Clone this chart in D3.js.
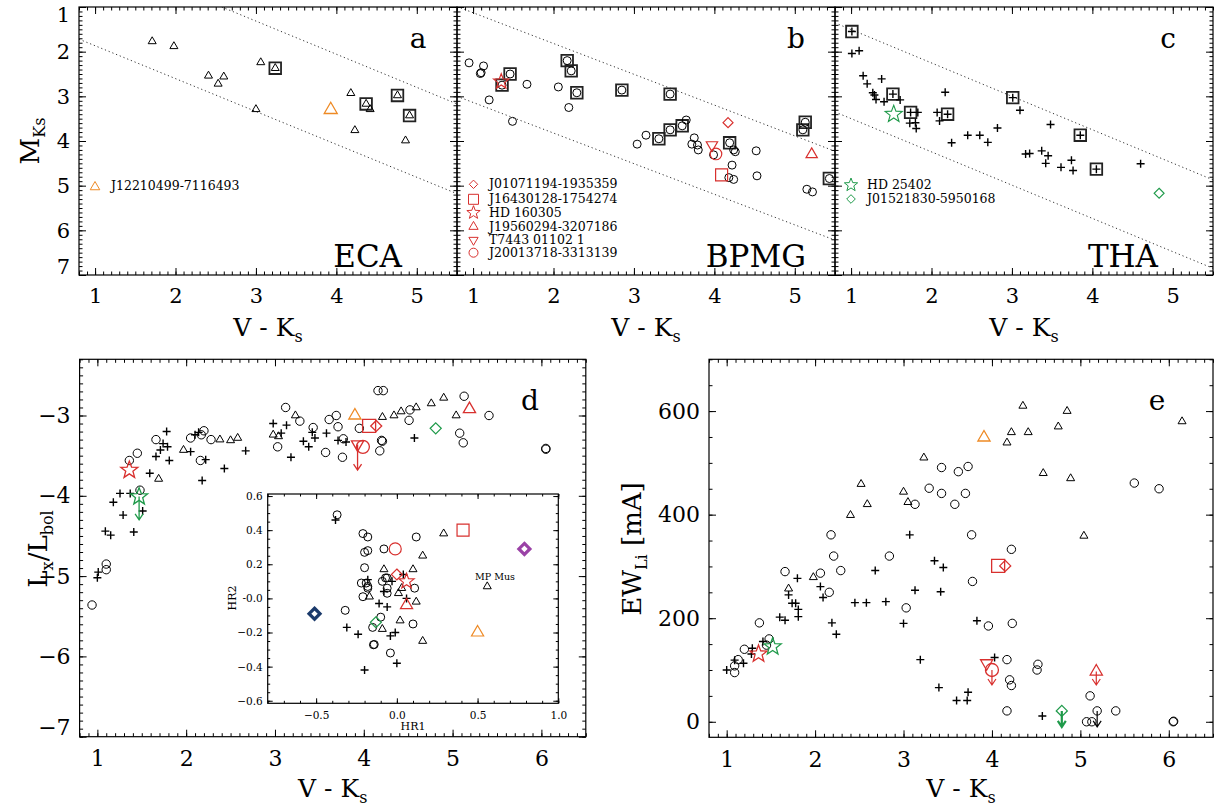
<!DOCTYPE html>
<meta charset="utf-8">
<style>
  body { margin: 0; background: white; }
  svg { font-family: 'DejaVu Serif', serif; }
  .tick line { stroke: black; stroke-width: 1; }
  .tick text { fill: black; font-family: 'DejaVu Serif', serif; }
</style>
<script src="https://cdn.jsdelivr.net/npm/d3@7"></script>
<body>
<div id="chart"></div>
<script>
// ---- colours of the highlighted stars
const RED = "#d8302e", ORANGE = "#ee8a25", GREEN = "#1f9a4a", NAVY = "#1b3a6b", PURPLE = "#9a42a6";

// ---- panel a : ECA  (V-Ks, M_Ks)
const ecaTri = [[1.71,1.77],[1.98,1.88],[2.41,2.54],[2.53,2.72],[2.6,2.56],[3.0,3.29],[3.06,2.24],[3.24,2.37],
  [4.18,2.93],[4.23,3.76],[4.37,3.17],[4.42,3.29],[4.76,2.98],[4.86,3.99],[4.91,3.43]];
const ecaBox = [[3.24,2.37],[4.37,3.17],[4.76,2.98],[4.91,3.43]];
const ecaNames = ["J12210499-7116493"];
const ecaShapes = ["tri"];
const ecaNewVK = [3.93];
const ecaNewMK = [3.30];
const ecaLines = [[[2.575,1.0],[5.5,3.17]], [[0.8,1.72],[5.5,5.18]]];

// ---- panel b : BPMG
const bpmgCirc = [[0.95,2.25],[1.13,2.32],[1.09,2.49],[1.1,2.47],[1.2,3.08],[1.49,3.56],[1.67,2.73],[2.06,2.79],[2.19,3.25],
  [3.04,4.07],[3.15,3.87],[3.65,3.53],[3.75,3.93],[3.72,4.07],[3.79,4.09],[3.8,4.2],[3.99,4.31],[4.22,4.54],
  [4.18,4.82],[4.24,4.86],[4.24,4.2],[4.26,4.24],[4.52,4.22],[4.53,4.78],[5.15,5.08],[5.22,5.14]];
const bpmgBox = [[1.46,2.5],[1.36,2.75],[2.17,2.2],[2.22,2.43],[2.29,2.92],[2.85,2.86],[3.45,2.95],[3.31,3.95],
  [3.45,3.75],[3.6,3.66],[4.19,4.04],[5.13,3.58],[5.1,3.75],[5.43,4.84]];
const bpmgNames = ["J01071194-1935359","J16430128-1754274","HD 160305","J19560294-3207186","T7443 01102 1","J20013718-3313139"];
const bpmgShapes = ["diamond","square","star","tri","triDown","circle"];
const bpmgNewVK = [4.17,4.09,1.35,5.21,3.97,4.02];
const bpmgNewMK = [3.59,4.76,2.67,4.30,4.09,4.29];
const bpmgLines = [[[0.8,0.99],[5.5,4.23]], [[0.8,3.0],[5.5,6.22]]];

// ---- panel c : THA
const thaPlus = [[1.01,2.04],[1.1,1.98],[1.15,2.54],[1.2,2.72],[1.27,2.92],[1.29,2.97],[1.31,3.07],[1.38,2.61],[1.41,3.12],
  [1.61,3.08],[1.73,3.6],[1.8,3.59],[1.81,3.72],[1.83,3.36],[2.07,3.36],[2.1,3.55],[2.17,2.91],[2.25,4.04],[2.45,3.87],
  [2.6,3.87],[2.7,4.03],[2.82,3.71],[3.1,3.31],[3.17,4.29],[3.22,4.28],[3.37,4.22],[3.42,4.5],[3.45,4.33],[3.48,3.63],
  [3.61,4.59],[3.74,4.43],[3.76,4.66],[4.6,4.51]];
const thaBox = [[1.01,1.55],[1.52,2.95],[1.74,3.36],[2.2,3.4],[3.01,3.03],[3.85,3.87],[4.05,4.63]];
const thaNames = ["HD 25402","J01521830-5950168"];
const thaShapes = ["star","diamond"];
const thaNewVK = [1.53,4.83];
const thaNewMK = [3.40,5.17];
const thaLines = [[[0.8,1.355],[5.5,4.87]], [[0.8,3.35],[5.5,6.85]]];

// ---- panel d : log Lx/Lbol
const dCirc = [[1.36,-3.56],[1.45,-3.47],[1.66,-3.30],[1.48,-3.93],[2.05,-3.28],[2.17,-3.24],[2.2,-3.19],[2.28,-3.30],
  [2.16,-3.56],[3.12,-2.90],[3.28,-3.07],[3.03,-3.39],[3.43,-3.15],[3.61,-3.05],[3.69,-3.0],[3.71,-3.14],[3.57,-3.46],
  [3.76,-3.52],[3.77,-3.29],[3.95,-3.16],[4.16,-2.69],[4.22,-2.69],[4.2,-3.31],[4.21,-3.32],[4.18,-3.44],[4.52,-2.93],
  [4.51,-3.06],[5.13,-2.76],[5.41,-3.0],[5.08,-3.22],[5.12,-3.34],[6.05,-3.41],[6.05,-3.42],[0.94,-5.36],[1.1,-4.85],[1.1,-4.92]];
const dTri = [[1.69,-3.79],[1.97,-3.43],[2.38,-3.30],[2.5,-3.31],[2.58,-3.28],[2.98,-3.24],[3.04,-3.26],[3.23,-3.0],
  [4.21,-3.02],[4.34,-3.0],[4.42,-2.95],[4.59,-2.9],[4.76,-2.85],[4.9,-2.78],[5.04,-3.0]];
const dPlus = [[1.78,-3.20],[1.74,-3.35],[1.79,-3.39],[1.71,-3.43],[1.66,-3.51],[1.81,-3.56],[1.59,-3.72],[1.255,-3.97],
  [1.37,-3.97],[1.18,-4.08],[1.29,-4.24],[1.51,-4.19],[1.41,-4.45],[1.09,-4.44],[1.15,-4.49],[1.01,-4.95],[1.0,-5.02],
  [2.1,-3.24],[2.14,-3.21],[2.05,-3.45],[2.22,-3.55],[2.18,-3.81],[2.43,-3.66],[2.67,-3.44],[2.98,-3.10],[3.07,-3.22],
  [3.13,-3.12],[3.18,-3.52],[3.32,-3.32],[3.38,-3.39],[3.42,-3.21],[3.45,-3.28],[3.58,-3.22],[3.71,-3.31],[3.8,-3.33],[4.57,-3.28]];
const dNewShapes = ["star","star","tri","square","diamond","triDown","circle","tri","diamond"];
const dNewColors = [RED,GREEN,ORANGE,RED,RED,RED,RED,RED,GREEN];
const dNewVK = [1.36,1.47,3.90,4.06,4.14,3.93,3.99,5.19,4.81];
const dNewLx = [-3.68,-4.01,-3.0,-3.13,-3.13,-3.36,-3.39,-2.92,-3.16];
// upper limits: [V-Ks, from, to]
const dLimits = [[1.47,-4.01,-4.30,GREEN],[3.93,-3.36,-3.68,RED]];

// ---- inset : hardness ratios
const insCirc = [[-0.37,0.49],[-0.21,0.38],[-0.18,0.36],[-0.2,0.27],[-0.18,0.28],[-0.08,0.29],[0.12,0.36],[-0.2,0.18],
  [-0.22,0.09],[-0.19,0.09],[-0.18,0.07],[-0.18,0.06],[-0.21,0.01],[-0.09,0.1],[-0.07,0.12],[-0.06,0.12],[-0.06,0.06],
  [-0.06,0.03],[0.11,0.06],[-0.32,-0.07],[-0.1,-0.11],[-0.15,-0.17],[-0.14,-0.27],[-0.145,-0.272],[0.1,-0.15],[-0.04,-0.32]];
const insTri = [[0.29,0.38],[0.16,0.25],[-0.08,0.17],[0.1,0.17],[-0.17,0.01],[0.01,0.03],[0.12,-0.02],[0.02,-0.13],
  [-0.09,-0.18],[0.16,-0.25],[0.56,0.07],[0.03,0.06]];
const insPlus = [[-0.38,0.46],[-0.18,0.11],[-0.08,0.04],[-0.03,0.1],[0.04,0.14],[0.06,0.0],[-0.11,-0.03],[-0.06,-0.05],
  [-0.31,-0.17],[-0.24,-0.21],[-0.04,-0.22],[-0.01,-0.2],[-0.2,-0.42],[0.0,-0.38]];
const insNewShapes = ["diamond","diamond","square","circle","diamond","star","tri","diamond","tri"];
const insNewColors = [NAVY,PURPLE,RED,RED,RED,RED,RED,GREEN,ORANGE];
const insHR1 = [-0.51,0.79,0.41,-0.01,0.0,0.06,0.06,-0.13,0.5];
const insHR2 = [-0.09,0.29,0.40,0.29,0.14,0.10,-0.04,-0.14,-0.20];

// ---- panel e : EW(Li)
const eCirc = [[1.09,95],[1.09,108],[1.13,120],[1.2,140],[1.37,191],[1.48,160],[1.45,148],[1.66,290],[2.06,287],[2.16,250],
  [2.18,361],[2.21,320],[2.29,292],[2.84,320],[3.03,220],[3.13,420],[3.29,451],[3.43,491],[3.43,441],[3.62,483],[3.73,493],
  [3.58,420],[3.7,441],[3.77,361],[4.22,333],[3.78,271],[3.96,185],[4.23,190],[4.17,120],[4.52,111],[4.51,100],[4.2,81],
  [4.22,70],[4.17,21],[5.11,50],[5.19,21],[5.07,0],[5.13,0],[5.4,21],[5.61,461],[5.89,450],[6.05,0],[6.055,1]];
const eTri = [[1.7,257],[1.98,279],[2.4,399],[2.52,459],[2.59,420],[3.0,444],[3.05,424],[3.23,510],[4.17,539],[4.22,559],
  [4.35,610],[4.41,559],[4.58,480],[4.75,570],[4.85,600],[4.89,470],[5.04,359],[6.15,580]];
const ePlus = [[1.0,100],[1.09,119],[1.19,113],[1.29,142],[1.28,131],[1.41,155],[1.6,202],[1.66,196],[1.7,245],[1.8,277],
  [1.74,229],[1.78,229],[1.81,217],[1.81,203],[2.06,261],[2.09,240],[2.19,191],[2.24,169],[2.45,230],[2.58,230],[2.68,292],
  [2.8,232],[3.0,190],[3.07,361],[3.35,311],[3.45,298],[3.13,254],[3.42,251],[3.83,195],[3.19,120],[3.4,66],[3.6,41],
  [3.72,41],[3.73,57],[4.03,124],[4.57,11]];
const eNewShapes = ["star","star","tri","square","diamond","triDown","circle","tri","diamond"];
const eNewColors = [RED,GREEN,ORANGE,RED,RED,RED,RED,RED,GREEN];
const eNewVK = [1.36,1.52,3.91,4.07,4.15,3.94,4.0,5.18,4.79];
const eNewEW = [131,145,549,301,301,113,100,97,21];
const eLimits = [[4.0,100,71,RED,1.2],[5.18,97,71,RED,1.2],[4.79,21,-10,GREEN,2.2],[5.19,21,-10,"black",1.2]];

const W = 1218, H = 806;
const svg = d3.select("#chart").append("svg").attr("width", W).attr("height", H);
svg.append("rect").attr("width", W).attr("height", H).attr("fill", "white");

// marker shapes, centred at the origin
function shapePath(shape, s) {
  if (shape === "tri") return `M0,${-s}L${0.87*s},${0.5*s}L${-0.87*s},${0.5*s}Z`;
  if (shape === "triDown") return `M0,${s}L${0.87*s},${-0.5*s}L${-0.87*s},${-0.5*s}Z`;
  if (shape === "square") return `M${-s},${-s}H${s}V${s}H${-s}Z`;
  if (shape === "diamond") return `M0,${-s}L${s},0L0,${s}L${-s},0Z`;
  if (shape === "plus") return `M${-s},0H${s}M0,${-s}V${s}`;
  if (shape === "star") {
    let p = "";
    for (let i = 0; i < 10; i++) {
      const r = i % 2 ? s * 0.42 : s, a = -Math.PI / 2 + i * Math.PI / 5;
      p += (i ? "L" : "M") + (r * Math.cos(a)).toFixed(2) + "," + (r * Math.sin(a)).toFixed(2);
    }
    return p + "Z";
  }
  // circle
  return d3.arc()({innerRadius: 0, outerRadius: s, startAngle: 0, endAngle: 2 * Math.PI});
}

function mark(g, shape, px, py, s, color, sw) {
  g.append("path")
    .attr("d", shapePath(shape, s))
    .attr("transform", `translate(${px},${py})`)
    .attr("fill", "none")
    .attr("stroke", color || "black")
    .attr("stroke-width", sw || 1);
}

function arrow(g, px, py1, py2, color, sw) {
  g.append("path")
    .attr("d", `M${px},${py1}V${py2}M${px - 4},${py2 - 6}L${px},${py2}L${px + 4},${py2 - 6}`)
    .attr("fill", "none").attr("stroke", color).attr("stroke-width", sw);
}

function range(a, b, step) {
  const out = [];
  for (let v = a; v <= b + 1e-9; v += step) out.push(+v.toFixed(4));
  return out;
}

// box with inward ticks on all four sides
function frame(g, x, y, o) {
  const [xl, xr] = x.range();
  const yb = d3.max(y.range()), yt = d3.min(y.range());
  const L = o.len || 7, l = L / 2;
  const fx = o.xLabels ? (o.fx || d3.format("d")) : "";
  const fy = o.yLabels ? (o.fy || d3.format("d")) : "";
  const tidy = sel => { sel.select(".domain").remove(); sel.selectAll("text").style("font-size", o.font + "px"); };
  g.append("g").attr("transform", `translate(0,${yb})`)
    .call(d3.axisBottom(x).tickValues(o.xMajor).tickSizeInner(-L).tickSizeOuter(0).tickPadding(o.xPad).tickFormat(fx)).call(tidy);
  g.append("g").attr("transform", `translate(0,${yb})`)
    .call(d3.axisBottom(x).tickValues(o.xMinor).tickSizeInner(-l).tickSizeOuter(0).tickFormat("")).call(tidy);
  g.append("g").attr("transform", `translate(0,${yt})`)
    .call(d3.axisTop(x).tickValues(o.xMajor).tickSizeInner(-L).tickSizeOuter(0).tickFormat("")).call(tidy);
  g.append("g").attr("transform", `translate(0,${yt})`)
    .call(d3.axisTop(x).tickValues(o.xMinor).tickSizeInner(-l).tickSizeOuter(0).tickFormat("")).call(tidy);
  const left = g.append("g").attr("transform", `translate(${xl},0)`)
    .call(d3.axisLeft(y).tickValues(o.yMajor).tickSizeInner(-L).tickSizeOuter(0).tickPadding(o.yPad || 6).tickFormat(fy)).call(tidy);
  // labels sitting on the frame edge are pulled inside, as in the original
  left.selectAll(".tick text").attr("y", v => Math.abs(y(v) - yt) < 1 ? (o.edge || 0) : Math.abs(y(v) - yb) < 1 ? -(o.edge || 0) : 0);
  g.append("g").attr("transform", `translate(${xl},0)`)
    .call(d3.axisLeft(y).tickValues(o.yMinor).tickSizeInner(-l).tickSizeOuter(0).tickFormat("")).call(tidy);
  g.append("g").attr("transform", `translate(${xr},0)`)
    .call(d3.axisRight(y).tickValues(o.yMajor).tickSizeInner(-L).tickSizeOuter(0).tickFormat("")).call(tidy);
  g.append("g").attr("transform", `translate(${xr},0)`)
    .call(d3.axisRight(y).tickValues(o.yMinor).tickSizeInner(-l).tickSizeOuter(0).tickFormat("")).call(tidy);
  g.append("rect").attr("x", xl).attr("y", yt).attr("width", xr - xl).attr("height", yb - yt)
    .attr("fill", "none").attr("stroke", "black").attr("stroke-width", 1.2);
}

function vkTitle(cx, base) {
  const t = svg.append("text").attr("x", cx).attr("y", base).attr("text-anchor", "middle").style("font-size", "25px");
  t.append("tspan").text("V - K");
  t.append("tspan").attr("dy", 6).style("font-size", "16px").text("s");
}

// ================= top row: colour-magnitude diagrams =================
const yTop = d3.scaleLinear([1, 7], [7, 275]);
const topPanels = [
  {id: "a", name: "ECA", x0: 79, x1: 457, lines: ecaLines},
  {id: "b", name: "BPMG", x0: 457, x1: 835, lines: bpmgLines},
  {id: "c", name: "THA", x0: 835, x1: 1213, lines: thaLines}
];
topPanels.forEach((p, i) => {
  p.x = d3.scaleLinear([0.8, 5.5], [p.x0, p.x1]);
  const g = svg.append("g");
  g.append("clipPath").attr("id", "clip" + p.id).append("rect")
    .attr("x", p.x0).attr("y", 7).attr("width", p.x1 - p.x0).attr("height", 268);
  p.lines.forEach(seg => {
    g.append("line").attr("clip-path", `url(#clip${p.id})`)
      .attr("x1", p.x(seg[0][0])).attr("y1", yTop(seg[0][1]))
      .attr("x2", p.x(seg[1][0])).attr("y2", yTop(seg[1][1]))
      .attr("stroke", "#333").attr("stroke-width", 1).attr("stroke-dasharray", "1.2,2.8");
  });
  frame(g, p.x, yTop, {xMajor: [1, 2, 3, 4, 5], xMinor: range(0.8, 5.5, 0.1), yMajor: [1, 2, 3, 4, 5, 6, 7],
    yMinor: range(1, 7, 0.1), xLabels: true, yLabels: i === 0, font: 21, xPad: 13, yPad: 9, edge: 8});
  p.g = g;
  g.append("text").attr("x", p.x1 - (p.id === "c" ? 45 : 39)).attr("y", 48).attr("text-anchor", "middle")
    .style("font-size", "28px").text(p.id);
  g.append("text").attr("x", p.x1 - (p.id === "b" ? 29 : 55)).attr("y", 267).attr("text-anchor", "end")
    .style("font-size", "31px").text(p.name);
  vkTitle((p.x0 + p.x1) / 2, 336);
});

// panel a
const ga = topPanels[0].g, xa = topPanels[0].x;
ecaBox.forEach(d => mark(ga, "square", xa(d[0]), yTop(d[1]), 5.8, "#222", 1.8));
ecaTri.forEach(d => mark(ga, "tri", xa(d[0]), yTop(d[1]), 4.6));
ecaNewVK.forEach((v, i) => mark(ga, ecaShapes[i], xa(v), yTop(ecaNewMK[i]), 7.5, ORANGE, 1.3));
ecaNames.forEach((n, i) => {
  mark(ga, ecaShapes[i], 95, 187 + i * 14, 5.5, ORANGE, 1);
  ga.append("text").attr("x", 111).attr("y", 190 + i * 14).style("font-size", "12.5px").text(n);
});

// panel b
const gb = topPanels[1].g, xb = topPanels[1].x;
bpmgBox.forEach(d => mark(gb, "square", xb(d[0]), yTop(d[1]), 5.8, "#222", 1.8));
bpmgCirc.concat(bpmgBox).forEach(d => mark(gb, "circle", xb(d[0]), yTop(d[1]), 4));
bpmgNewVK.forEach((v, i) => {
  const s = {diamond: 5, square: 6, star: 8, tri: 6.5, triDown: 6.5, circle: 5.8}[bpmgShapes[i]];
  mark(gb, bpmgShapes[i], xb(v), yTop(bpmgNewMK[i]), s, RED, 1.2);
});
bpmgNames.forEach((n, i) => {
  const yy = [184.3, 199.3, 212.7, 226.7, 240, 252.7][i];
  const s = {diamond: 4.2, square: 5, star: 7, tri: 5.3, triDown: 5.3, circle: 4.5}[bpmgShapes[i]];
  mark(gb, bpmgShapes[i], 473.5, yy, s, RED, 1);
  gb.append("text").attr("x", 489).attr("y", yy + 4).style("font-size", "12.5px").text(n);
});

// panel c
const gc = topPanels[2].g, xc = topPanels[2].x;
thaBox.forEach(d => {
  mark(gc, "square", xc(d[0]), yTop(d[1]), 5.8, "#222", 1.8);
  mark(gc, "plus", xc(d[0]), yTop(d[1]), 4, "black", 1.4);
});
thaPlus.forEach(d => mark(gc, "plus", xc(d[0]), yTop(d[1]), 4, "black", 1.4));
thaNewVK.forEach((v, i) => mark(gc, thaShapes[i], xc(v), yTop(thaNewMK[i]), thaShapes[i] === "star" ? 9 : 5, GREEN, 1.1));
thaNames.forEach((n, i) => {
  mark(gc, thaShapes[i], 851, 185 + i * 14, thaShapes[i] === "star" ? 7 : 4.3, GREEN, 1);
  gc.append("text").attr("x", 867).attr("y", 189 + i * 14).style("font-size", "12.5px").text(n);
});

// y title of the top row
const ym = svg.append("text").attr("transform", "translate(39,141) rotate(-90)").attr("text-anchor", "middle")
  .style("font-size", "26px");
ym.append("tspan").text("M");
ym.append("tspan").attr("dy", 6).style("font-size", "16px").text("Ks");

// ================= panel d =================
const xd = d3.scaleLinear([0.8, 6.5], [79.6, 585.8]);
const yd = d3.scaleLinear([-7, -2.3], [736.7, 359.3]);
const gd = svg.append("g");
frame(gd, xd, yd, {xMajor: [1, 2, 3, 4, 5, 6], xMinor: range(0.8, 6.5, 0.1), yMajor: [-7, -6, -5, -4, -3],
  yMinor: range(-7, -2.3, 0.1), xLabels: true, yLabels: true, font: 22, xPad: 14, yPad: 9, edge: 9});
dCirc.forEach(d => mark(gd, "circle", xd(d[0]), yd(d[1]), 4.2));
dTri.forEach(d => mark(gd, "tri", xd(d[0]), yd(d[1]), 4.6));
dPlus.forEach(d => mark(gd, "plus", xd(d[0]), yd(d[1]), 4, "black", 1.4));
dLimits.forEach(d => arrow(gd, xd(d[0]), yd(d[1]), yd(d[2]), d[3], 1.3));
dNewVK.forEach((v, i) => {
  const sh = dNewShapes[i];
  const s = {star: 9, tri: 7, square: 6.5, diamond: 5.5, triDown: 7, circle: 6.5}[sh];
  mark(gd, sh, xd(v), yd(dNewLx[i]), s, dNewColors[i], 1.3);
});
gd.append("text").attr("x", 530).attr("y", 410).attr("text-anchor", "middle").style("font-size", "28px").text("d");
vkTitle(332.7, 797);
const yl = svg.append("text").attr("transform", "translate(47,549) rotate(-90)").attr("text-anchor", "middle")
  .style("font-size", "26px");
yl.append("tspan").text("L");
yl.append("tspan").attr("dy", 6).style("font-size", "16px").text("x");
yl.append("tspan").attr("dy", -6).text("/L");
yl.append("tspan").attr("dy", 6).style("font-size", "16px").text("bol");

// ---- inset
const xi = d3.scaleLinear([-0.8, 1.0], [267.7, 558.3]);
const yi = d3.scaleLinear([-0.615, 0.612], [703.3, 494]);
const gi = svg.append("g");
gi.append("rect").attr("x", 267.7).attr("y", 494).attr("width", 290.6).attr("height", 209.3).attr("fill", "white");
frame(gi, xi, yi, {xMajor: [-0.5, 0, 0.5, 1.0], xMinor: range(-0.8, 1.0, 0.1), yMajor: range(-0.6, 0.6, 0.2),
  yMinor: range(-0.6, 0.6, 0.05), xLabels: true, yLabels: true, font: 10.5, xPad: 8, yPad: 5, len: 5,
  fx: d3.format(".1f"), fy: v => (Math.abs(v) < 1e-9 ? "-0.0" : d3.format(".1f")(v))});
insCirc.forEach(d => mark(gi, "circle", xi(d[0]), yi(d[1]), 4));
insTri.forEach(d => mark(gi, "tri", xi(d[0]), yi(d[1]), 4.6));
insPlus.forEach(d => mark(gi, "plus", xi(d[0]), yi(d[1]), 4, "black", 1.4));
insHR1.forEach((v, i) => {
  const sh = insNewShapes[i], c = insNewColors[i];
  const bold = c === NAVY || c === PURPLE;
  const s = {star: 8, tri: 7, square: 6, diamond: 5.5, circle: 6}[sh];
  mark(gi, sh, xi(v), yi(insHR2[i]), s, c, bold ? 3.2 : 1.2);
});
gi.append("text").attr("x", 495).attr("y", 580).attr("text-anchor", "middle").style("font-size", "9.5px").text("MP Mus");
gi.append("text").attr("x", 413).attr("y", 730).attr("text-anchor", "middle").style("font-size", "11px").text("HR1");
gi.append("text").attr("transform", "translate(236,598) rotate(-90)").attr("text-anchor", "middle")
  .style("font-size", "11px").text("HR2");

// ================= panel e =================
const xe = d3.scaleLinear([0.8, 6.5], [709, 1213]);
const ye = d3.scaleLinear([-30, 700], [737.3, 359.3]);
const ge = svg.append("g");
frame(ge, xe, ye, {xMajor: [1, 2, 3, 4, 5, 6], xMinor: range(0.8, 6.5, 0.1), yMajor: [0, 200, 400, 600],
  yMinor: range(0, 700, 50), xLabels: true, yLabels: true, font: 22, xPad: 14, yPad: 9});
eCirc.forEach(d => mark(ge, "circle", xe(d[0]), ye(d[1]), 4.2));
eTri.forEach(d => mark(ge, "tri", xe(d[0]), ye(d[1]), 4.6));
ePlus.forEach(d => mark(ge, "plus", xe(d[0]), ye(d[1]), 4, "black", 1.4));
eLimits.forEach(d => arrow(ge, xe(d[0]), ye(d[1]), ye(d[2]), d[3], d[4]));
eNewVK.forEach((v, i) => {
  const sh = eNewShapes[i];
  const s = {star: 9, tri: 7, square: 6.5, diamond: 5.5, triDown: 7, circle: 6.5}[sh];
  mark(ge, sh, xe(v), ye(eNewEW[i]), s, eNewColors[i], 1.3);
});
ge.append("text").attr("x", 1157).attr("y", 410).attr("text-anchor", "middle").style("font-size", "28px").text("e");
vkTitle(961, 797);
const ew = svg.append("text").attr("transform", "translate(641,549) rotate(-90)").attr("text-anchor", "middle")
  .style("font-size", "26px");
ew.append("tspan").text("EW");
ew.append("tspan").attr("dy", 6).style("font-size", "16px").text("Li");
ew.append("tspan").attr("dy", -6).text(" [mA]");
</script>
</body>
